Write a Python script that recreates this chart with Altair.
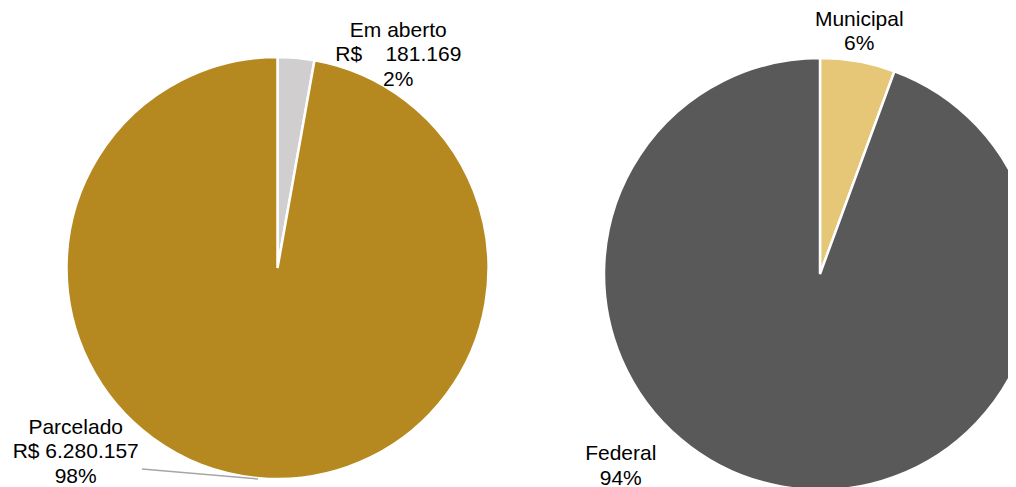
import altair as alt
import pandas as pd

FONT = "Liberation Sans"

# Left pie: parcelamento
left_cats = ["Em aberto", "Parcelado"]
left_vals = [181169, 6280157]
left_labels = ["Em aberto\nR$\u00a0\u00a0\u00a0\u00a0181.169\n2%", "Parcelado\nR$ 6.280.157\n98%"]
left_colors = ["#D0CECE", "#B5891F"]

# Right pie: esfera
right_cats = ["Municipal", "Federal"]
right_vals = [5.6, 94.4]
right_labels = ["Municipal\n6%", "Federal\n94%"]
right_colors = ["#E6C677", "#595959"]


def pie(cats, vals, labels, colors, R, w, h, cx, cy, label_pos, extra=None):
    df = pd.DataFrame({"cat": cats, "value": vals, "label": labels,
                       "order": list(range(len(cats)))})
    arc = alt.Chart(df).mark_arc(radius=R, stroke="white", strokeWidth=2.5, clip=True).encode(
        theta=alt.Theta("value:Q", stack=True),
        color=alt.Color("cat:N", scale=alt.Scale(domain=cats, range=colors), legend=None),
        order=alt.Order("order:Q"),
        x=alt.value(cx), y=alt.value(cy),
    )
    base = (alt.Chart(df)
            .transform_joinaggregate(total="sum(value)")
            .transform_window(cum="sum(value)", sort=[alt.SortField("order")], frame=[None, 0])
            .transform_calculate(mid="(datum.cum - datum.value/2)/datum.total"))
    layers = [arc]
    for c, (r, dx, dy) in zip(cats, label_pos):
        t = base.transform_filter(alt.datum.cat == c).mark_text(
            radius=r, dx=dx, dy=dy, font=FONT, fontSize=21, lineHeight=24.5,
            lineBreak="\n", align="center", baseline="middle", color="#000000",
        ).encode(
            theta=alt.Theta("mid:Q", scale=alt.Scale(domain=[0, 1]), stack=None),
            text="label:N",
            x=alt.value(cx), y=alt.value(cy),
        )
        layers.append(t)
    if extra is not None:
        layers.append(extra)
    return alt.layer(*layers).resolve_scale(theta="independent", color="independent").properties(width=w, height=h)


leader = alt.Chart(pd.DataFrame({"a": [0]})).mark_rule(color="#A6A6A6", strokeWidth=1.5).encode(
    x=alt.value(134), y=alt.value(461), x2=alt.value(250), y2=alt.value(471)
)

left = pie(left_cats, left_vals, left_labels, left_colors, 211, 539, 479, 269.5, 260,
           [(225, 101, -13), (225, -182, -64.5)], extra=leader)
right = pie(right_cats, right_vals, right_labels, right_colors, 216, 461, 479, 273, 266,
            [(230, -1, -28), (230, -159, -46)])

chart = (alt.hconcat(left, right, spacing=0)
         .resolve_scale(color="independent")
         .properties(padding=0)
         .configure_view(stroke=None))

chart.save("out.html", embed_options={"renderer": "svg", "actions": False})
